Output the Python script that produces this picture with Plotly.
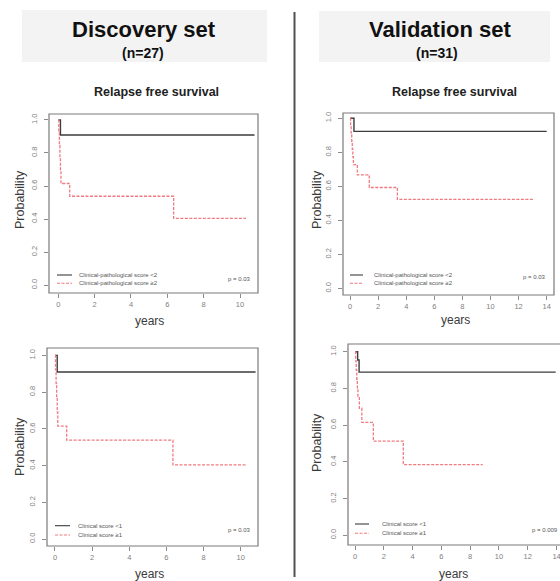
import plotly.graph_objects as go

W, H = 560, 581
FONT = "Liberation Sans, Arial, sans-serif"

# ---------------- data ----------------
# Discovery set (n=27) – clinical-pathological score
disc_cp_low_t = [0, 0.12, 10.8]
disc_cp_low_s = [1.0, 0.909, 0.909]
disc_cp_high_t = [0, 0.03, 0.06, 0.09, 0.12, 0.15, 0.63, 6.35, 10.33]
disc_cp_high_s = [1.0, 0.923, 0.846, 0.769, 0.692, 0.615, 0.538, 0.404, 0.404]
# Discovery set – clinical score
disc_c_low_t = [0, 0.12, 10.8]
disc_c_low_s = [1.0, 0.909, 0.909]
disc_c_high_t = [0, 0.03, 0.06, 0.09, 0.12, 0.15, 0.63, 6.35, 10.33]
disc_c_high_s = [1.0, 0.923, 0.846, 0.769, 0.692, 0.615, 0.538, 0.404, 0.404]
# Validation set (n=31) – clinical-pathological score
val_cp_low_t = [0, 0.28, 14.0]
val_cp_low_s = [1.0, 0.923, 0.923]
val_cp_high_t = [0, 0.04, 0.08, 0.12, 0.16, 0.2, 0.24, 0.52, 1.37, 3.37, 13.1]
val_cp_high_s = [1.0, 0.955, 0.909, 0.864, 0.818, 0.773, 0.727, 0.667, 0.593, 0.523, 0.523]
# Validation set – clinical score
val_c_low_t = [0, 0.18, 0.28, 13.94]
val_c_low_s = [1.0, 0.955, 0.889, 0.889]
val_c_high_t = [0, 0.04, 0.08, 0.12, 0.16, 0.2, 0.3, 0.47, 1.27, 3.35, 8.87]
val_c_high_s = [1.0, 0.95, 0.9, 0.85, 0.8, 0.75, 0.692, 0.615, 0.513, 0.385, 0.385]

x_ticks_disc = [0, 2, 4, 6, 8, 10]
x_ticks_val = [0, 2, 4, 6, 8, 10, 12, 14]
y_ticks = [0.0, 0.2, 0.4, 0.6, 0.8, 1.0]
y_ticklabels = ["0.0", "0.2", "0.4", "0.6", "0.8", "1.0"]

legend_cp = ["Clinical-pathological score <2", "Clinical-pathological score \u22652"]
legend_c = ["Clinical score <1", "Clinical score \u22651"]
p_values = ["p = 0.03", "p = 0.03", "p = 0.03", "p = 0.009"]

# ---------------- layout geometry (pixels) ----------------
def px(x):
    return x / W

def py(y):
    return 1 - y / H

panels = [
    dict(box=(49, 114, 258, 293), xr=(-0.51, 10.99), yr=(-0.048, 1.036), xt=x_ticks_disc,
         low=(disc_cp_low_t, disc_cp_low_s), high=(disc_cp_high_t, disc_cp_high_s),
         leg=legend_cp, p=p_values[0], legx=(57, 72, 77), legy=(275, 283.3), pxy=(253, 278.5),
         ttl=(20, 200), yrs=(149, 320.5), title=(156, 92), x1=1.0),
    dict(box=(343, 113, 554, 295), xr=(-0.5, 14.52), yr=(-0.039, 1.031), xt=x_ticks_val,
         low=(val_cp_low_t, val_cp_low_s), high=(val_cp_high_t, val_cp_high_s),
         leg=legend_cp, p=p_values[1], legx=(350, 363, 372), legy=(275, 283.3), pxy=(548, 277),
         ttl=(317, 200), yrs=(455, 320), title=(454, 92), x1=1.0),
    dict(box=(47, 348, 258, 546), xr=(-0.43, 10.93), yr=(-0.038, 1.04), xt=x_ticks_disc,
         low=(disc_c_low_t, disc_c_low_s), high=(disc_c_high_t, disc_c_high_s),
         leg=legend_c, p=p_values[2], legx=(55, 70, 76), legy=(525.7, 535), pxy=(253, 530),
         ttl=(20, 447), yrs=(149, 574), title=None, x1=1.0),
    dict(box=(348, 344, 560, 545), xr=(-0.49, 14.24), yr=(-0.053, 1.042), xt=x_ticks_val,
         low=(val_c_low_t, val_c_low_s), high=(val_c_high_t, val_c_high_s),
         leg=legend_c, p=p_values[3], legx=(355, 369, 380), legy=(524, 533.3), pxy=(530, 530),
         ttl=(317, 443), yrs=(453, 574), title=None, x1=1.019),
]

BLACK = "#3c3c3c"
RED = "#f07a80"
BOX = "#7a7a7a"
TICK = "#8c8c8c"

fig = go.Figure()
shapes = []
annotations = []
layout = {}

for i, pn in enumerate(panels):
    n = "" if i == 0 else str(i + 1)
    xa, ya = "x" + n, "y" + n
    x0, y0, x1, y1 = pn["box"]
    fig.add_trace(go.Scatter(x=pn["low"][0], y=pn["low"][1], mode="lines",
                             line=dict(color=BLACK, width=1.4, shape="hv"),
                             xaxis=xa, yaxis=ya, showlegend=False, hoverinfo="skip"))
    fig.add_trace(go.Scatter(x=pn["high"][0], y=pn["high"][1], mode="lines",
                             line=dict(color=RED, width=1.3, shape="hv", dash="3px,1.5px"),
                             xaxis=xa, yaxis=ya, showlegend=False, hoverinfo="skip"))
    layout["xaxis" + n] = dict(
        domain=[px(x0), px(x1)], range=list(pn["xr"]), anchor=ya,
        tickvals=pn["xt"], ticktext=[str(v) for v in pn["xt"]],
        ticks="outside", ticklen=4, tickcolor=TICK, tickwidth=1,
        tickfont=dict(family=FONT, size=7.5, color="#808080"),
        showgrid=False, zeroline=False, showline=False, ticklabeloverflow="allow",
        fixedrange=True)
    layout["yaxis" + n] = dict(
        domain=[py(y1), py(y0)], range=list(pn["yr"]), anchor=xa,
        tickvals=y_ticks, ticktext=y_ticklabels, tickangle=-90,
        ticks="outside", ticklen=4, tickcolor=TICK, tickwidth=1,
        tickfont=dict(family=FONT, size=7.5, color="#808080"),
        ticklabelstandoff=4,
        showgrid=False, zeroline=False, showline=False, fixedrange=True)
    # plot frame
    shapes.append(dict(type="rect", xref=xa + " domain", yref=ya + " domain",
                       x0=0, x1=pn["x1"], y0=0, y1=1,
                       line=dict(color=BOX, width=1.2), layer="above"))
    # legend
    lx0, lx1, ltx = pn["legx"]
    for k, (lab, col, dash) in enumerate(zip(pn["leg"], [BLACK, RED], ["solid", "3px,1.5px"])):
        yy = pn["legy"][k]
        shapes.append(dict(type="line", xref="paper", yref="paper",
                           x0=px(lx0), x1=px(lx1), y0=py(yy), y1=py(yy),
                           line=dict(color=col, width=1.1, dash=dash)))
        annotations.append(dict(text=lab, x=px(ltx), y=py(yy), xref="paper", yref="paper",
                                xanchor="left", yanchor="middle", showarrow=False,
                                font=dict(family=FONT, size=6, color="#555")))
    pxp, pyp = pn["pxy"]
    annotations.append(dict(text=pn["p"], x=px(pxp), y=py(pyp), xref="paper", yref="paper",
                            xanchor="right" if i < 3 else "left", yanchor="middle",
                            showarrow=False, font=dict(family=FONT, size=6, color="#555")))
    # axis titles
    tx, ty = pn["ttl"]
    annotations.append(dict(text="Probability", x=px(tx), y=py(ty), xref="paper", yref="paper",
                            textangle=-90, showarrow=False, xanchor="center", yanchor="middle",
                            font=dict(family=FONT, size=12.5, color="#3a3a3a")))
    yx, yy = pn["yrs"]
    annotations.append(dict(text="years", x=px(yx), y=py(yy), xref="paper", yref="paper",
                            showarrow=False, xanchor="center", yanchor="middle",
                            font=dict(family=FONT, size=12, color="#3a3a3a")))
    if pn["title"]:
        ttx, tty = pn["title"]
        annotations.append(dict(text="<b>Relapse free survival</b>", x=px(ttx), y=py(tty),
                                xref="paper", yref="paper", showarrow=False,
                                xanchor="center", yanchor="middle",
                                font=dict(family=FONT, size=12.5, color="#222")))

# header boxes
for (bx0, by0, bx1, by1) in [(22, 10, 267, 62), (319, 11, 550, 62)]:
    shapes.append(dict(type="rect", xref="paper", yref="paper",
                       x0=px(bx0), x1=px(bx1), y0=py(by1), y1=py(by0),
                       fillcolor="#f3f3f3", line=dict(width=0), layer="below"))
headers = [("Discovery set", "(n=27)", 144, 143), ("Validation set", "(n=31)", 440, 437)]
for big, small, cx, sx in headers:
    annotations.append(dict(text="<b>" + big + "</b>", x=px(cx), y=py(29), xref="paper", yref="paper",
                            showarrow=False, xanchor="center", yanchor="middle",
                            font=dict(family=FONT, size=22, color="#111")))
    annotations.append(dict(text="<b>" + small + "</b>", x=px(sx), y=py(53), xref="paper", yref="paper",
                            showarrow=False, xanchor="center", yanchor="middle",
                            font=dict(family=FONT, size=14, color="#111")))

# vertical separator
shapes.append(dict(type="line", xref="paper", yref="paper", x0=px(294.5), x1=px(294.5),
                   y0=py(577), y1=py(12), line=dict(color="#505050", width=2)))

fig.update_layout(
    width=W, height=H, margin=dict(l=0, r=0, t=0, b=0),
    paper_bgcolor="white", plot_bgcolor="white",
    shapes=shapes, annotations=annotations, showlegend=False,
    **layout,
)

fig.write_html("out.html", config={"displayModeBar": False},
               post_script="document.body.style.margin='0';document.body.style.padding='0';"
                           "document.documentElement.style.overflow='hidden';")
